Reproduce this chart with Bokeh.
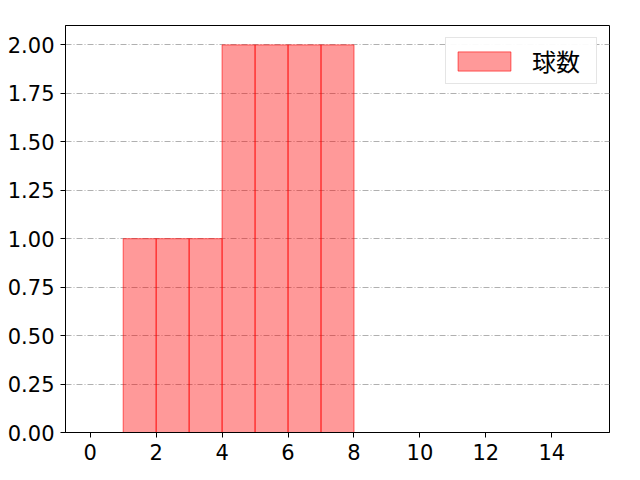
from bokeh.plotting import figure
from bokeh.models import FixedTicker, NumeralTickFormatter, Range1d, Legend, LegendItem
from bokeh.embed import file_html
from bokeh.resources import INLINE

bin_left = [1, 2, 3, 4, 5, 6, 7]
bin_right = [2, 3, 4, 5, 6, 7, 8]
counts = [1, 1, 1, 2, 2, 2, 2]
x_ticks = [0, 2, 4, 6, 8, 10, 12, 14]
y_ticks = [0, 0.25, 0.5, 0.75, 1.0, 1.25, 1.5, 1.75, 2.0]
label = "球数"

p = figure(width=640, height=480, output_backend="svg", toolbar_location=None,
           x_range=Range1d(-0.75, 15.75), y_range=Range1d(0, 2.1),
           min_border_left=65, min_border_right=31, min_border_top=25, min_border_bottom=48)

r = p.quad(left=bin_left, right=bin_right, bottom=0, top=counts,
           fill_color="red", fill_alpha=0.4, line_color="red", line_alpha=0.6, line_width=1)

p.xgrid.visible = False
p.ygrid.grid_line_color = "#b0b0b0"
p.ygrid.grid_line_dash = "6 2 1 2"
p.ygrid.grid_line_width = 1

p.xaxis.ticker = FixedTicker(ticks=x_ticks)
p.yaxis.ticker = FixedTicker(ticks=y_ticks)
p.yaxis.formatter = NumeralTickFormatter(format="0.00")
for ax in (p.xaxis, p.yaxis):
    ax.major_label_text_font = "DejaVu Sans"
    ax.major_label_text_font_size = "21px"
    ax.major_label_text_color = "black"
    ax.minor_tick_line_color = None
    ax.major_tick_out = 5
    ax.major_tick_in = 0
    ax.axis_line_color = "black"
    ax.major_tick_line_color = "black"
p.xaxis.major_label_standoff = 6
p.yaxis.major_label_standoff = 6

p.outline_line_color = "black"
p.outline_line_alpha = 1
p.outline_line_width = 1

legend = Legend(items=[LegendItem(label=label, renderers=[r])], location="top_right",
                label_text_font="Noto Sans CJK JP", label_text_font_size="24px",
                label_text_color="black", label_height=24, label_width=59,
                glyph_width=66, glyph_height=24, label_standoff=15,
                border_line_color="#cccccc", border_line_width=1,
                padding=5, margin=12, spacing=0)
p.add_layout(legend)

open("out.html", "w").write(file_html(p, INLINE))
